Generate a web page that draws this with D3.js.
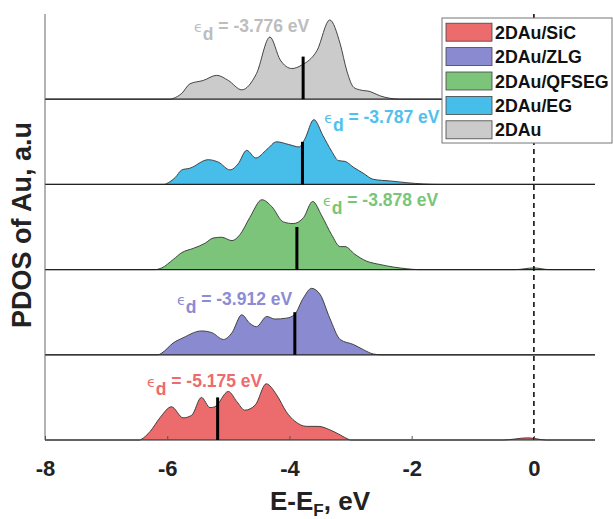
<!DOCTYPE html>
<html>
<head>
<meta charset="utf-8">
<script src="https://cdnjs.cloudflare.com/ajax/libs/d3/7.8.5/d3.min.js"></script>
<style>
  body { margin: 0; background: #fff; }
  text { font-family: "Liberation Sans", Arial, sans-serif; }
</style>
</head>
<body>
<div id="chart"></div>
<script>
// series, top panel first
var names = ["2DAu", "2DAu/EG", "2DAu/QFSEG", "2DAu/ZLG", "2DAu/SiC"];
var legendOrder = ["2DAu/SiC", "2DAu/ZLG", "2DAu/QFSEG", "2DAu/EG", "2DAu"];
var colors = { "2DAu": "#cbcbcb", "2DAu/EG": "#47bdea", "2DAu/QFSEG": "#7dc47b", "2DAu/ZLG": "#8a8ad0", "2DAu/SiC": "#ec6b6d" };
var labelColors = { "2DAu": "#bdbdbd", "2DAu/EG": "#4fc1ec", "2DAu/QFSEG": "#79c678", "2DAu/ZLG": "#8b8bd6", "2DAu/SiC": "#ee6a6c" };

// energies (eV) and PDOS (a.u.)
var eAu =   [-8, -5.95, -5.90, -5.76, -5.63, -5.41, -5.19, -5.00, -4.78, -4.54, -4.32, -4.15, -3.96, -3.80, -3.55, -3.34, -3.17, -3.06, -2.95, -2.85, -2.68, -2.52, -2.35, -2.2, 1];
var pAu =   [0, 0, 0.01, 0.07, 0.18, 0.22, 0.28, 0.22, 0.11, 0.30, 0.73, 0.46, 0.36, 0.40, 0.57, 0.93, 0.65, 0.33, 0.14, 0.11, 0.09, 0.04, 0.01, 0, 0];

var eEG =   [-8, -6.05, -6.01, -5.87, -5.76, -5.63, -5.33, -5.16, -4.97, -4.84, -4.70, -4.55, -4.37, -4.21, -4.02, -3.84, -3.75, -3.60, -3.45, -3.31, -3.20, -3.09, -2.95, -2.79, -2.63, -2.35, -2.08, -1.8, -1.5, 1];
var pEG =   [0, 0, 0.01, 0.08, 0.17, 0.19, 0.29, 0.26, 0.17, 0.24, 0.40, 0.31, 0.41, 0.50, 0.47, 0.44, 0.53, 0.76, 0.57, 0.39, 0.28, 0.27, 0.20, 0.13, 0.06, 0.04, 0.02, 0.005, 0, 0];

var eQF =   [-8, -6.2, -6.09, -5.90, -5.76, -5.57, -5.38, -5.25, -5.11, -4.94, -4.81, -4.65, -4.45, -4.29, -4.10, -3.94, -3.77, -3.62, -3.47, -3.31, -3.17, -3.09, -2.93, -2.74, -2.52, -2.30, -2.08, -1.9, -0.3, 0, 0.25, 1];
var pQF =   [0, 0, 0.02, 0.12, 0.20, 0.25, 0.31, 0.37, 0.38, 0.34, 0.41, 0.61, 0.82, 0.74, 0.56, 0.54, 0.61, 0.80, 0.63, 0.41, 0.27, 0.27, 0.18, 0.10, 0.06, 0.03, 0.01, 0, 0, 0.02, 0, 0];

var eZLG =  [-8, -6.15, -6.09, -5.90, -5.74, -5.44, -5.27, -5.08, -4.94, -4.78, -4.65, -4.54, -4.37, -4.24, -4.05, -3.92, -3.77, -3.64, -3.50, -3.34, -3.17, -2.95, -2.79, -2.63, -2.5, 1];
var pZLG =  [0, 0, 0.02, 0.14, 0.20, 0.28, 0.26, 0.18, 0.26, 0.47, 0.37, 0.33, 0.45, 0.42, 0.43, 0.47, 0.67, 0.78, 0.71, 0.43, 0.18, 0.12, 0.06, 0.01, 0, 0];

var eSiC =  [-8, -6.45, -6.42, -6.28, -6.12, -5.93, -5.74, -5.60, -5.44, -5.30, -5.22, -5.00, -4.86, -4.73, -4.56, -4.38, -4.21, -4.05, -3.91, -3.72, -3.53, -3.34, -3.17, -3.04, -3.0, -0.5, -0.1, 0.2, 1];
var pSiC =  [0, 0, 0.01, 0.10, 0.26, 0.39, 0.26, 0.29, 0.50, 0.38, 0.39, 0.57, 0.45, 0.35, 0.41, 0.66, 0.53, 0.33, 0.22, 0.16, 0.16, 0.12, 0.06, 0.01, 0, 0, 0.025, 0, 0];

// d-band centres (eV), same order as names
var dCenter = [-3.776, -3.787, -3.878, -3.912, -5.175];
var markerHeight = 0.5;
// label anchors in data units (energy, pdos)
var labelE = [-5.56, -3.43, -3.45, -5.84, -6.33];
var labelP = [0.79, 0.72, 0.75, 0.59, 0.62];

var xTicks = [-8, -6, -4, -2, 0];

var energies = [eAu, eEG, eQF, eZLG, eSiC];
var pdos = [pAu, pEG, pQF, pZLG, pSiC];

var width = 613, height = 519;
var plotLeft = 45, plotRight = 595, plotTop = 14, plotBottom = 440;

var svg = d3.select("#chart").append("svg")
    .attr("width", width)
    .attr("height", height);

var xScale = d3.scaleLinear().domain([-8, 1]).range([plotLeft, plotRight]);
var panel = d3.scaleBand().domain(names).range([plotTop, plotBottom]).padding(0);

names.forEach(function (name, i) {
    var y0 = panel(name) + panel.bandwidth();
    var yScale = d3.scaleLinear().domain([0, 1]).range([y0, panel(name)]);
    var pts = energies[i].map(function (e, j) { return { e: e, p: pdos[i][j] }; });

    var area = d3.area()
        .x(d => xScale(d.e))
        .y0(y0)
        .y1(d => yScale(d.p))
        .curve(d3.curveMonotoneX);
    var line = d3.line()
        .x(d => xScale(d.e))
        .y(d => yScale(d.p))
        .curve(d3.curveMonotoneX);

    svg.append("path").datum(pts)
        .attr("d", area)
        .attr("fill", colors[name]);
    svg.append("path").datum(pts)
        .attr("d", line)
        .attr("fill", "none")
        .attr("stroke", "#333")
        .attr("stroke-width", 0.9);

    // baseline
    svg.append("line")
        .attr("x1", plotLeft).attr("x2", plotRight)
        .attr("y1", y0).attr("y2", y0)
        .attr("stroke", "#222")
        .attr("stroke-width", 1.2);

    // d-band centre marker
    svg.append("line")
        .attr("x1", xScale(dCenter[i])).attr("x2", xScale(dCenter[i]))
        .attr("y1", y0).attr("y2", yScale(markerHeight))
        .attr("stroke", "#000")
        .attr("stroke-width", 3);

    // label
    var t = svg.append("text")
        .attr("x", xScale(labelE[i]))
        .attr("y", yScale(labelP[i]))
        .attr("fill", labelColors[name])
        .style("font-size", "17.5px")
        .style("font-weight", "bold");
    t.append("tspan").text("\u03F5")
        .style("font-weight", "normal")
        .style("font-size", "14px")
        .style("font-family", "'DejaVu Sans', sans-serif");
    t.append("tspan").text("d")
        .attr("dy", 8);
    t.append("tspan").text(" = " + dCenter[i].toFixed(3) + " eV")
        .attr("dy", -8);
});

// Fermi level
svg.append("line")
    .attr("x1", xScale(0)).attr("x2", xScale(0))
    .attr("y1", plotTop).attr("y2", plotBottom)
    .attr("stroke", "#111")
    .attr("stroke-width", 1.6)
    .attr("stroke-dasharray", "5,4");

// left axis line
svg.append("line")
    .attr("x1", plotLeft).attr("x2", plotLeft)
    .attr("y1", plotTop).attr("y2", plotBottom)
    .attr("stroke", "#666")
    .attr("stroke-width", 1);

// bottom axis
var xAxis = d3.axisBottom(xScale)
    .tickValues(xTicks)
    .tickSizeInner(-4)
    .tickSizeOuter(0)
    .tickPadding(20)
    .tickFormat(d => String(d));

var gx = svg.append("g")
    .attr("transform", "translate(0," + plotBottom + ")")
    .call(xAxis);
gx.select(".domain").remove();
gx.selectAll("line").attr("stroke", "#555");
gx.selectAll("text")
    .attr("fill", "#222")
    .style("font-size", "22px")
    .style("font-weight", "bold")
    .style("font-family", "'Liberation Sans', Arial, sans-serif");

// axis titles
var xt = svg.append("text")
    .attr("x", 320).attr("y", 510)
    .attr("text-anchor", "middle")
    .attr("fill", "#222")
    .style("font-size", "26px")
    .style("font-weight", "bold");
xt.append("tspan").text("E-E");
xt.append("tspan").text("F").attr("dy", 6).style("font-size", "17px");
xt.append("tspan").text(", eV").attr("dy", -6);

svg.append("text")
    .attr("transform", "translate(31,225) rotate(-90)")
    .attr("text-anchor", "middle")
    .attr("fill", "#222")
    .style("font-size", "27px")
    .style("font-weight", "bold")
    .text("PDOS of Au, a.u");

// legend
var lg = svg.append("g").attr("transform", "translate(442,18)");
lg.append("rect")
    .attr("width", 170).attr("height", 125)
    .attr("fill", "#fff")
    .attr("stroke", "#777")
    .attr("stroke-width", 1);
var rowY = d3.scaleBand().domain(legendOrder).range([2, 124]);
var item = lg.selectAll("g.item")
    .data(legendOrder)
    .join("g")
    .attr("class", "item")
    .attr("transform", d => "translate(0," + (rowY(d) + rowY.bandwidth() / 2) + ")");
item.append("rect")
    .attr("x", 4).attr("y", -9)
    .attr("width", 46).attr("height", 18)
    .attr("fill", d => colors[d])
    .attr("stroke", "#444")
    .attr("stroke-width", 0.8);
item.append("text")
    .attr("x", 53).attr("y", 6.5)
    .attr("fill", "#111")
    .style("font-size", "17.8px")
    .style("font-weight", "bold")
    .text(d => d);
</script>
</body>
</html>
